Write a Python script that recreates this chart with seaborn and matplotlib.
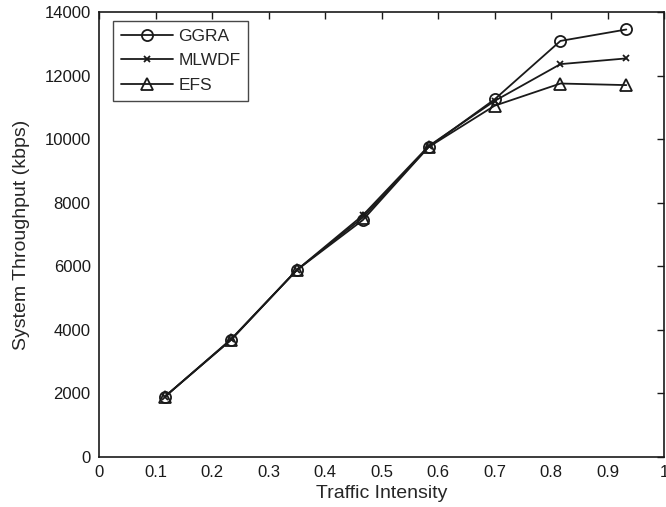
import matplotlib
matplotlib.use("Agg")
import matplotlib.pyplot as plt
import seaborn as sns
import pandas as pd

# data
traffic = [0.1167, 0.2333, 0.35, 0.4667, 0.5833, 0.7, 0.8167, 0.9333]
ggra = [1900, 3680, 5880, 7450, 9750, 11250, 13090, 13450]
mlwdf = [1900, 3700, 5880, 7600, 9780, 11200, 12360, 12540]
efs = [1900, 3680, 5880, 7530, 9750, 11050, 11750, 11700]
schemes = ["GGRA", "MLWDF", "EFS"]

df = pd.DataFrame({
    "x": traffic * 3,
    "y": ggra + mlwdf + efs,
    "scheme": sum([[s] * len(traffic) for s in schemes], []),
})

sns.set_style("white")
plt.rcParams["font.family"] = ["Liberation Sans", "DejaVu Sans"]

fig = plt.figure(figsize=(6.66, 5.07), dpi=100)
ax = fig.add_axes([99 / 666, 50 / 507, 565 / 666, 445 / 507])

markers = {"GGRA": "o", "MLWDF": "x", "EFS": "^"}
sizes = {"GGRA": 8, "MLWDF": 4, "EFS": 9}
for s in schemes:
    sub = df[df["scheme"] == s]
    sns.lineplot(data=sub, x="x", y="y", ax=ax, color="#1a1a1a", lw=1.3,
                 marker=markers[s], markersize=sizes[s], markerfacecolor="none",
                 markeredgecolor="#1a1a1a", markeredgewidth=1.3, label=s)

ax.set_xlim(0, 1)
ax.set_ylim(0, 14000)
ax.set_xticks([0, 0.1, 0.2, 0.3, 0.4, 0.5, 0.6, 0.7, 0.8, 0.9, 1])
ax.set_xticklabels(["0", "0.1", "0.2", "0.3", "0.4", "0.5", "0.6", "0.7", "0.8", "0.9", "1"])
ax.set_yticks(range(0, 14001, 2000))
ax.tick_params(direction="in", top=True, right=True, length=5, width=1,
               labelsize=12, colors="#1a1a1a", pad=6)
for sp in ax.spines.values():
    sp.set_color("#1a1a1a")
    sp.set_linewidth(1.2)
ax.set_xlabel("Traffic Intensity", fontsize=14, labelpad=3)
ax.set_ylabel("System Throughput (kbps)", fontsize=14, labelpad=10)

leg = ax.legend(loc="upper left", fontsize=12.5, frameon=True, fancybox=False,
                edgecolor="#1a1a1a", handlelength=3, handletextpad=0.3,
                borderaxespad=0.5, labelspacing=0.55, borderpad=0.45,
                bbox_to_anchor=(0.01, 1.0))
leg.get_frame().set_linewidth(1.0)

fig.savefig("out.png", dpi=100)
